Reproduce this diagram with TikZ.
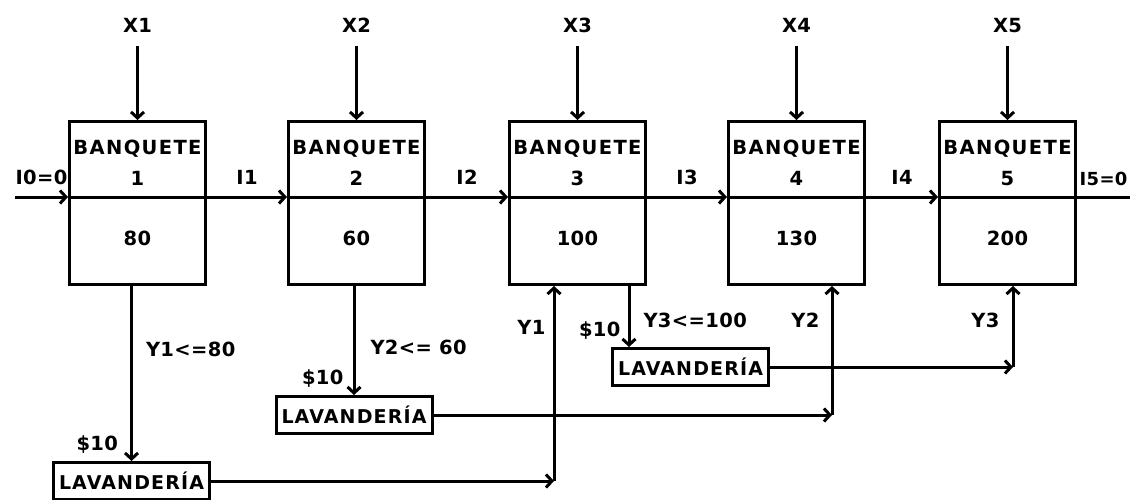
\documentclass[tikz,border=0pt]{standalone}
\usepackage{fontspec}
\setmainfont{DejaVu Sans}[LetterSpace=2]
\usetikzlibrary{positioning}
\usetikzlibrary{arrows.meta}
\tikzset{
banquet/.style={rectangle, draw, line width=3pt, minimum width=136pt, minimum height=163pt},
laundry/.style={rectangle, draw, line width=3pt, minimum width=156pt, minimum height=37pt, inner sep=0pt, font=\bfseries\fontsize{19}{21}\selectfont\addfontfeature{LetterSpace=6}},
lbl/.style={font=\bfseries\fontsize{19.5}{21}\selectfont, inner sep=3pt, text depth=0pt},
wide/.style={font=\bfseries\fontsize{19.5}{21}\selectfont\addfontfeature{LetterSpace=7}},
flow/.style={line width=3pt, -{Straight Barb[length=6pt,width=13pt]}},
wire/.style={line width=3pt}
}
\begin{document}
\begin{tikzpicture}[x=1pt, y=-1pt]
    \useasboundingbox (0,0) rectangle (1130,499);
    % banquetes
    \foreach \n/\px/\val in {1/137.5/80, 2/356.5/60, 3/577.5/100, 4/796.5/130, 5/1007.5/200} {
        \node[banquet] (b\n) at (\px,203) {};
        \node[lbl, wide] (t\n) at ([yshift=-27pt]b\n.north) {BANQUETE};
        \node[lbl] (n\n) at ([yshift=-58pt]b\n.north) {\n};
        \node[lbl] (v\n) at ([yshift=-118pt]b\n.north) {\val};
        \node[lbl] (x\n) [above=84pt of b\n] {X\n};
        \draw[flow, shorten <=10pt] (x\n) -- (b\n);
    }
    % inventario
    \coordinate (i0) at (15,197);
    \coordinate (i5) at (1130,197);
    \draw[flow] (i0) -- node[lbl, above=8pt] (l0) {I0=0} (i0 -| b1.west);
    \foreach \a/\b in {1/2, 2/3, 3/4, 4/5} {
        \draw[wire] (b\a.west |- i0) -- (b\a.east |- i0);
        \draw[flow] (b\a.east |- i0) -- node[lbl, above=8pt] (l\a) {I\a} (b\b.west |- i0);
    }
    \draw[wire] (b5.west |- i0) -- (b5.east |- i0);
    \draw[wire] (b5.east |- i0) -- (i5) node[lbl, pos=1, anchor=south east, inner sep=1pt, yshift=9pt, font=\bfseries\fontsize{18}{20}\selectfont] (l5) {I5=0};
    % lavanderias
    \node[laundry] (lav1) at (131.5,481) {LAVANDERÍA};
    \node[laundry] (lav2) at (354,415) {LAVANDERÍA};
    \node[laundry] (lav3) at (690.5,367) {LAVANDERÍA};
    \coordinate (d3) at (629,286);
    \draw[flow] (b1.south -| lav1.north) -- (lav1.north)
        node[lbl, pos=0.36, right=10pt] (y1d) {Y1<=80}
        node[lbl, pos=0.9, left=9pt] (c1d) {\$10};
    \draw[flow] (b2.south -| lav2.north) -- (lav2.north)
        node[lbl, pos=0.56, right=12pt] (y2d) {Y2<= 60}
        node[lbl, pos=0.835, left=6pt] (c2d) {\$10};
    \draw[flow] (b3.south -| d3) -- (lav3.north -| d3)
        node[lbl, pos=0.557, right=10pt] (y3d) {Y3<=100}
        node[lbl, pos=0.705, left=4pt] (c3d) {\$10};
    % devoluciones
    \coordinate (c1) at (554,481);
    \coordinate (c2) at (832,415);
    \coordinate (c3) at (1013,367);
    \draw[flow] (lav1) -- (c1);
    \draw[flow] (c1) -- (c1 |- b3.south) node[lbl, pos=0.79, left=4pt] (y1u) {Y1};
    \draw[flow] (lav2) -- (c2);
    \draw[flow] (c2) -- (c2 |- b4.south) node[lbl, pos=0.736, left=8pt] (y2u) {Y2};
    \draw[flow] (lav3) -- (c3);
    \draw[flow] (c3) -- (c3 |- b5.south) node[lbl, pos=0.58, left=9pt] (y3u) {Y3};
\end{tikzpicture}
\end{document}
